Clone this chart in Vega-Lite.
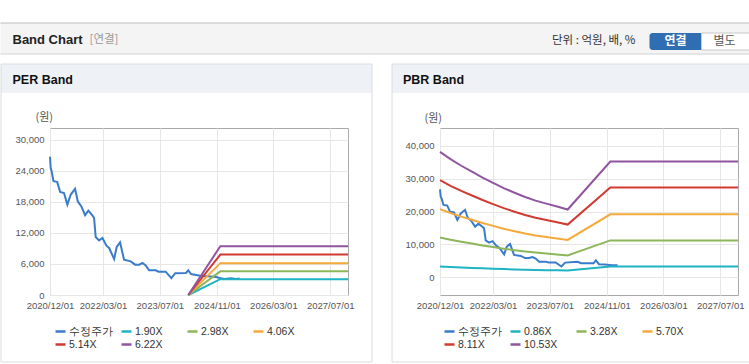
{
"$schema": "https://vega.github.io/schema/vega-lite/v6.json",
"background": "white",
"padding": {"top": 22, "left": 0, "right": 0, "bottom": 0},
"autosize": {"type": "pad"},
"config": {
  "view": {"stroke": null},
  "font": "Liberation Sans",
  "axis": {"labelFont": "Liberation Sans", "labelFontSize": 9.5, "labelColor": "#555555", "ticks": false, "tickSize": 0, "domain": false, "gridColor": "#e6e6e6", "gridWidth": 1, "labelPadding": 6, "labelOverlap": false},
  "legend": {"labelFont": "Liberation Sans", "labelFontSize": 10.5, "labelColor": "#333333"}
},
"spacing": 8,
"resolve": {"scale": {"color": "independent", "x": "independent", "y": "independent"}, "legend": {"color": "independent"}},
"datasets": {
  "per_price": [
    {"date":"2020-12-01","series":"수정주가","value":26700},
    {"date":"2020-12-07","series":"수정주가","value":24500},
    {"date":"2020-12-15","series":"수정주가","value":23900},
    {"date":"2020-12-31","series":"수정주가","value":22000},
    {"date":"2021-01-20","series":"수정주가","value":21900},
    {"date":"2021-02-01","series":"수정주가","value":21800},
    {"date":"2021-02-26","series":"수정주가","value":19900},
    {"date":"2021-03-31","series":"수정주가","value":19700},
    {"date":"2021-04-29","series":"수정주가","value":17450},
    {"date":"2021-05-28","series":"수정주가","value":19400},
    {"date":"2021-07-04","series":"수정주가","value":20500},
    {"date":"2021-07-27","series":"수정주가","value":18100},
    {"date":"2021-08-27","series":"수정주가","value":17100},
    {"date":"2021-09-28","series":"수정주가","value":15400},
    {"date":"2021-10-26","series":"수정주가","value":16300},
    {"date":"2021-11-24","series":"수정주가","value":15500},
    {"date":"2021-12-14","series":"수정주가","value":14900},
    {"date":"2021-12-28","series":"수정주가","value":11200},
    {"date":"2022-01-26","series":"수정주가","value":10550},
    {"date":"2022-02-24","series":"수정주가","value":11000},
    {"date":"2022-03-30","series":"수정주가","value":9530},
    {"date":"2022-04-22","series":"수정주가","value":9080},
    {"date":"2022-06-04","series":"수정주가","value":6950},
    {"date":"2022-06-26","series":"수정주가","value":9270},
    {"date":"2022-07-25","series":"수정주가","value":10170},
    {"date":"2022-08-28","series":"수정주가","value":6820},
    {"date":"2022-10-25","series":"수정주가","value":6500},
    {"date":"2022-12-01","series":"수정주가","value":5860},
    {"date":"2023-01-04","series":"수정주가","value":5860},
    {"date":"2023-02-02","series":"수정주가","value":6180},
    {"date":"2023-03-02","series":"수정주가","value":5720},
    {"date":"2023-03-31","series":"수정주가","value":4760},
    {"date":"2023-05-27","series":"수정주가","value":4760},
    {"date":"2023-06-20","series":"수정주가","value":4500},
    {"date":"2023-08-20","series":"수정주가","value":4500},
    {"date":"2023-10-08","series":"수정주가","value":3250},
    {"date":"2023-11-10","series":"수정주가","value":4200},
    {"date":"2024-02-10","series":"수정주가","value":4250},
    {"date":"2024-03-01","series":"수정주가","value":4760},
    {"date":"2024-03-25","series":"수정주가","value":4050},
    {"date":"2024-06-10","series":"수정주가","value":3730},
    {"date":"2024-08-15","series":"수정주가","value":3600},
    {"date":"2024-10-25","series":"수정주가","value":3470},
    {"date":"2024-11-25","series":"수정주가","value":3280},
    {"date":"2025-01-05","series":"수정주가","value":3100},
    {"date":"2025-03-01","series":"수정주가","value":3250},
    {"date":"2025-04-15","series":"수정주가","value":3100},
    {"date":"2025-05-15","series":"수정주가","value":3200}
  ],
  "pbr_price": [
    {"date":"2020-12-01","series":"수정주가","value":26700},
    {"date":"2020-12-07","series":"수정주가","value":24500},
    {"date":"2020-12-15","series":"수정주가","value":23900},
    {"date":"2020-12-31","series":"수정주가","value":22000},
    {"date":"2021-01-20","series":"수정주가","value":21900},
    {"date":"2021-02-01","series":"수정주가","value":21800},
    {"date":"2021-02-26","series":"수정주가","value":19900},
    {"date":"2021-03-31","series":"수정주가","value":19700},
    {"date":"2021-04-29","series":"수정주가","value":17450},
    {"date":"2021-05-28","series":"수정주가","value":19400},
    {"date":"2021-07-04","series":"수정주가","value":20500},
    {"date":"2021-07-27","series":"수정주가","value":18100},
    {"date":"2021-08-27","series":"수정주가","value":17100},
    {"date":"2021-09-28","series":"수정주가","value":15400},
    {"date":"2021-10-26","series":"수정주가","value":16300},
    {"date":"2021-11-24","series":"수정주가","value":15500},
    {"date":"2021-12-14","series":"수정주가","value":14900},
    {"date":"2021-12-28","series":"수정주가","value":11200},
    {"date":"2022-01-26","series":"수정주가","value":10550},
    {"date":"2022-02-24","series":"수정주가","value":11000},
    {"date":"2022-03-30","series":"수정주가","value":9530},
    {"date":"2022-04-22","series":"수정주가","value":9080},
    {"date":"2022-06-04","series":"수정주가","value":6950},
    {"date":"2022-06-26","series":"수정주가","value":9270},
    {"date":"2022-07-25","series":"수정주가","value":10170},
    {"date":"2022-08-28","series":"수정주가","value":6820},
    {"date":"2022-10-25","series":"수정주가","value":6500},
    {"date":"2022-12-01","series":"수정주가","value":5860},
    {"date":"2023-01-04","series":"수정주가","value":5860},
    {"date":"2023-02-02","series":"수정주가","value":6180},
    {"date":"2023-03-02","series":"수정주가","value":5720},
    {"date":"2023-03-31","series":"수정주가","value":4760},
    {"date":"2023-05-27","series":"수정주가","value":4760},
    {"date":"2023-06-20","series":"수정주가","value":4500},
    {"date":"2023-08-20","series":"수정주가","value":4500},
    {"date":"2023-10-08","series":"수정주가","value":3300},
    {"date":"2023-11-10","series":"수정주가","value":4470},
    {"date":"2024-02-24","series":"수정주가","value":4700},
    {"date":"2024-03-25","series":"수정주가","value":4300},
    {"date":"2024-07-10","series":"수정주가","value":4250},
    {"date":"2024-07-30","series":"수정주가","value":5170},
    {"date":"2024-08-25","series":"수정주가","value":4000},
    {"date":"2024-10-15","series":"수정주가","value":3900},
    {"date":"2024-12-15","series":"수정주가","value":3700},
    {"date":"2025-02-01","series":"수정주가","value":3650}
  ],
  "per_band": [
    {"date":"2024-03-01","series":"1.90X","value":0},{"date":"2024-12-01","series":"1.90X","value":3060},{"date":"2027-12-01","series":"1.90X","value":3060},
    {"date":"2024-03-01","series":"2.98X","value":0},{"date":"2024-12-01","series":"2.98X","value":4570},{"date":"2027-12-01","series":"2.98X","value":4570},
    {"date":"2024-03-01","series":"4.06X","value":0},{"date":"2024-12-01","series":"4.06X","value":6150},{"date":"2027-12-01","series":"4.06X","value":6150},
    {"date":"2024-03-01","series":"5.14X","value":0},{"date":"2024-12-01","series":"5.14X","value":7800},{"date":"2027-12-01","series":"5.14X","value":7800},
    {"date":"2024-03-01","series":"6.22X","value":0},{"date":"2024-12-01","series":"6.22X","value":9420},{"date":"2027-12-01","series":"6.22X","value":9420}
  ],
  "pbr_band": [
    {"date":"2020-12-01","series":"0.86X","value":3300},{"date":"2021-03-01","series":"0.86X","value":3150},{"date":"2021-06-01","series":"0.86X","value":3000},{"date":"2021-09-01","series":"0.86X","value":2870},{"date":"2021-12-01","series":"0.86X","value":2740},{"date":"2022-03-01","series":"0.86X","value":2620},{"date":"2022-06-01","series":"0.86X","value":2500},{"date":"2022-09-01","series":"0.86X","value":2400},{"date":"2022-12-01","series":"0.86X","value":2310},{"date":"2023-03-01","series":"0.86X","value":2240},{"date":"2023-06-01","series":"0.86X","value":2180},{"date":"2023-09-01","series":"0.86X","value":2120},{"date":"2023-12-01","series":"0.86X","value":2060},{"date":"2024-12-01","series":"0.86X","value":3300},{"date":"2027-12-01","series":"0.86X","value":3300},
    {"date":"2020-12-01","series":"3.28X","value":12120},{"date":"2021-03-01","series":"3.28X","value":11430},{"date":"2021-06-01","series":"3.28X","value":10810},{"date":"2021-09-01","series":"3.28X","value":10250},{"date":"2021-12-01","series":"3.28X","value":9690},{"date":"2022-03-01","series":"3.28X","value":9190},{"date":"2022-06-01","series":"3.28X","value":8690},{"date":"2022-09-01","series":"3.28X","value":8260},{"date":"2022-12-01","series":"3.28X","value":7850},{"date":"2023-03-01","series":"3.28X","value":7510},{"date":"2023-06-01","series":"3.28X","value":7230},{"date":"2023-09-01","series":"3.28X","value":6950},{"date":"2023-12-01","series":"3.28X","value":6670},{"date":"2024-12-01","series":"3.28X","value":11220},{"date":"2027-12-01","series":"3.28X","value":11220},
    {"date":"2020-12-01","series":"5.70X","value":20720},{"date":"2021-03-01","series":"5.70X","value":19530},{"date":"2021-06-01","series":"5.70X","value":18450},{"date":"2021-09-01","series":"5.70X","value":17480},{"date":"2021-12-01","series":"5.70X","value":16500},{"date":"2022-03-01","series":"5.70X","value":15640},{"date":"2022-06-01","series":"5.70X","value":14770},{"date":"2022-09-01","series":"5.70X","value":14010},{"date":"2022-12-01","series":"5.70X","value":13310},{"date":"2023-03-01","series":"5.70X","value":12710},{"date":"2023-06-01","series":"5.70X","value":12230},{"date":"2023-09-01","series":"5.70X","value":11800},{"date":"2023-12-01","series":"5.70X","value":11350},{"date":"2024-12-01","series":"5.70X","value":19150},{"date":"2027-12-01","series":"5.70X","value":19150},
    {"date":"2020-12-01","series":"8.11X","value":29500},{"date":"2021-03-01","series":"8.11X","value":27800},{"date":"2021-06-01","series":"8.11X","value":26260},{"date":"2021-09-01","series":"8.11X","value":24870},{"date":"2021-12-01","series":"8.11X","value":23490},{"date":"2022-03-01","series":"8.11X","value":22260},{"date":"2022-06-01","series":"8.11X","value":21020},{"date":"2022-09-01","series":"8.11X","value":19940},{"date":"2022-12-01","series":"8.11X","value":18940},{"date":"2023-03-01","series":"8.11X","value":18100},{"date":"2023-06-01","series":"8.11X","value":17400},{"date":"2023-09-01","series":"8.11X","value":16710},{"date":"2023-12-01","series":"8.11X","value":16020},{"date":"2024-12-01","series":"8.11X","value":27260},{"date":"2027-12-01","series":"8.11X","value":27260},
    {"date":"2020-12-01","series":"10.53X","value":38100},{"date":"2021-03-01","series":"10.53X","value":35900},{"date":"2021-06-01","series":"10.53X","value":33900},{"date":"2021-09-01","series":"10.53X","value":32100},{"date":"2021-12-01","series":"10.53X","value":30300},{"date":"2022-03-01","series":"10.53X","value":28700},{"date":"2022-06-01","series":"10.53X","value":27100},{"date":"2022-09-01","series":"10.53X","value":25700},{"date":"2022-12-01","series":"10.53X","value":24400},{"date":"2023-03-01","series":"10.53X","value":23300},{"date":"2023-06-01","series":"10.53X","value":22400},{"date":"2023-09-01","series":"10.53X","value":21500},{"date":"2023-12-01","series":"10.53X","value":20600},{"date":"2024-12-01","series":"10.53X","value":35200},{"date":"2027-12-01","series":"10.53X","value":35200}
  ]
},
"vconcat": [
  {
    "width": 600, "height": 31,
    "data": {"values": [{}]},
    "layer": [
      {"mark": {"type": "rect", "fill": "#f4f4f4"}, "encoding": {"x": {"value": -49.5}, "x2": {"value": 699}, "y": {"value": 0}, "y2": {"value": 31}}},
      {"mark": {"type": "rule", "stroke": "#bdbdbd", "strokeWidth": 1}, "encoding": {"x": {"value": -49.5}, "x2": {"value": 699}, "y": {"value": 0}}},
      {"mark": {"type": "rule", "stroke": "#d2d2d2", "strokeWidth": 1}, "encoding": {"x": {"value": -49.5}, "x2": {"value": 699}, "y": {"value": 31}}},
      {"mark": {"type": "text", "text": "Band Chart", "font": "Liberation Sans", "fontSize": 13, "fontWeight": "bold", "color": "#222222", "align": "left", "baseline": "middle"}, "encoding": {"x": {"value": -37.5}, "y": {"value": 16.5}}},
      {"mark": {"type": "text", "text": "[연결]", "font": "Noto Sans CJK KR", "fontSize": 11.5, "color": "#9a9a9a", "align": "left", "baseline": "middle"}, "encoding": {"x": {"value": 39.5}, "y": {"value": 16.5}}},
      {"mark": {"type": "text", "text": "단위 : 억원, 배, %", "font": "Noto Sans CJK KR", "fontSize": 11.5, "color": "#333333", "align": "left", "baseline": "middle"}, "encoding": {"x": {"value": 502}, "y": {"value": 18}}},
      {"mark": {"type": "rect", "fill": "#2f6eb3", "cornerRadiusTopLeft": 3, "cornerRadiusBottomLeft": 3}, "encoding": {"x": {"value": 599.5}, "x2": {"value": 651.5}, "y": {"value": 10}, "y2": {"value": 27}}},
      {"mark": {"type": "rect", "fill": "white", "stroke": "#c8c8c8", "strokeWidth": 1}, "encoding": {"x": {"value": 651.5}, "x2": {"value": 699.5}, "y": {"value": 10}, "y2": {"value": 27}}},
      {"mark": {"type": "text", "text": "연결", "font": "Noto Sans CJK KR", "fontSize": 12, "fontWeight": "bold", "color": "white", "align": "center", "baseline": "middle"}, "encoding": {"x": {"value": 625.5}, "y": {"value": 18}}},
      {"mark": {"type": "text", "text": "별도", "font": "Noto Sans CJK KR", "fontSize": 12, "color": "#555555", "align": "center", "baseline": "middle"}, "encoding": {"x": {"value": 674.5}, "y": {"value": 18}}}
    ]
  },
  {
    "spacing": 18,
    "resolve": {"scale": {"color": "independent", "x": "independent", "y": "independent"}, "legend": {"color": "independent"}},
    "hconcat": [
      {
        "width": 298, "height": 167,
        "view": {"stroke": "#aaaaaa"},
        "layer": [
          {"data": {"values": [{}]}, "mark": {"type": "rect", "fill": "#eef1f6"}, "encoding": {"x": {"value": -49}, "x2": {"value": 322}, "y": {"value": -64}, "y2": {"value": -35}}},
          {"data": {"values": [{}]}, "mark": {"type": "rect", "fillOpacity": 0, "stroke": "#dcdcdc", "strokeWidth": 1}, "encoding": {"x": {"value": -49}, "x2": {"value": 322}, "y": {"value": -64}, "y2": {"value": 234}}},
          {"data": {"values": [{}]}, "mark": {"type": "text", "text": "PER Band", "font": "Liberation Sans", "fontSize": 12.5, "fontWeight": "bold", "color": "#111111", "align": "left", "baseline": "middle"}, "encoding": {"x": {"value": -37.5}, "y": {"value": -48}}},
          {"data": {"name": "per_price"}, "mark": {"type": "line", "strokeWidth": 2},
           "encoding": {
             "x": {"field": "date", "type": "temporal", "scale": {"type": "utc", "domain": [{"year": 2020, "month": 12, "date": 1, "utc": true}, {"year": 2027, "month": 12, "date": 1, "utc": true}]},
                   "axis": {"values": [{"year": 2020, "month": 12, "date": 1, "utc": true}, {"year": 2022, "month": 3, "date": 1, "utc": true}, {"year": 2023, "month": 7, "date": 1, "utc": true}, {"year": 2024, "month": 11, "date": 1, "utc": true}, {"year": 2026, "month": 3, "date": 1, "utc": true}, {"year": 2027, "month": 7, "date": 1, "utc": true}], "labelExpr": "utcFormat(datum.value, '%Y/%m/%d')", "title": null, "labelFlush": false, "labelOverlap": false, "grid": true, "labelPadding": 5}},
             "y": {"field": "value", "type": "quantitative", "scale": {"domain": [0, 32250], "nice": false, "zero": false},
                   "axis": {"values": [0, 6000, 12000, 18000, 24000, 30000], "format": ",d", "labelOverlap": false, "title": "(원)", "titleAngle": 0, "titleX": -15, "titleY": -11, "titleAlign": "left", "titleBaseline": "middle", "titleFont": "Noto Sans CJK KR", "titleFontSize": 11, "titleFontWeight": "normal", "titleColor": "#555555", "grid": true}},
             "color": {"field": "series", "type": "nominal", "scale": {"domain": ["수정주가", "1.90X", "2.98X", "4.06X", "5.14X", "6.22X"], "range": ["#3a7cc9", "#1fb3c3", "#8db65a", "#f5a93a", "#d03a33", "#90559f"]},
                       "legend": {"title": null, "orient": "none", "legendX": 4, "legendY": 197, "direction": "horizontal", "columns": 4, "gridAlign": "all", "symbolType": "stroke", "symbolSize": 100, "symbolStrokeWidth": 2.5, "columnPadding": 3, "rowPadding": 1, "labelOffset": 2, "padding": 0}}
           }},
          {"data": {"name": "per_band"}, "mark": {"type": "line", "strokeWidth": 2},
           "encoding": {
             "x": {"field": "date", "type": "temporal", "scale": {"type": "utc", "domain": [{"year": 2020, "month": 12, "date": 1, "utc": true}, {"year": 2027, "month": 12, "date": 1, "utc": true}]},
                   "axis": {"values": [{"year": 2020, "month": 12, "date": 1, "utc": true}, {"year": 2022, "month": 3, "date": 1, "utc": true}, {"year": 2023, "month": 7, "date": 1, "utc": true}, {"year": 2024, "month": 11, "date": 1, "utc": true}, {"year": 2026, "month": 3, "date": 1, "utc": true}, {"year": 2027, "month": 7, "date": 1, "utc": true}], "labelExpr": "utcFormat(datum.value, '%Y/%m/%d')", "title": null, "labelFlush": false, "labelOverlap": false, "grid": true, "labelPadding": 5}},
             "y": {"field": "value", "type": "quantitative", "scale": {"domain": [0, 32250], "nice": false, "zero": false},
                   "axis": {"values": [0, 6000, 12000, 18000, 24000, 30000], "format": ",d", "labelOverlap": false, "title": "(원)", "titleAngle": 0, "titleX": -15, "titleY": -11, "titleAlign": "left", "titleBaseline": "middle", "titleFont": "Noto Sans CJK KR", "titleFontSize": 11, "titleFontWeight": "normal", "titleColor": "#555555", "grid": true}},
             "color": {"field": "series", "type": "nominal", "scale": {"domain": ["수정주가", "1.90X", "2.98X", "4.06X", "5.14X", "6.22X"], "range": ["#3a7cc9", "#1fb3c3", "#8db65a", "#f5a93a", "#d03a33", "#90559f"]}}
           }}
        ]
      },
      {
        "width": 298, "height": 167,
        "view": {"stroke": "#aaaaaa"},
        "layer": [
          {"data": {"values": [{}]}, "mark": {"type": "rect", "fill": "#eef1f6"}, "encoding": {"x": {"value": -48}, "x2": {"value": 310}, "y": {"value": -64}, "y2": {"value": -35}}},
          {"data": {"values": [{}]}, "mark": {"type": "rule", "stroke": "#dcdcdc", "strokeWidth": 1}, "encoding": {"x": {"value": -48}, "x2": {"value": 310}, "y": {"value": -64}}},
          {"data": {"values": [{}]}, "mark": {"type": "rule", "stroke": "#dcdcdc", "strokeWidth": 1}, "encoding": {"x": {"value": -48}, "x2": {"value": 310}, "y": {"value": 234}}},
          {"data": {"values": [{}]}, "mark": {"type": "rule", "stroke": "#dcdcdc", "strokeWidth": 1}, "encoding": {"x": {"value": -48}, "y": {"value": -64}, "y2": {"value": 234}}},
          {"data": {"values": [{}]}, "mark": {"type": "text", "text": "PBR Band", "font": "Liberation Sans", "fontSize": 12.5, "fontWeight": "bold", "color": "#111111", "align": "left", "baseline": "middle"}, "encoding": {"x": {"value": -37}, "y": {"value": -48}}},
          {"data": {"name": "pbr_price"}, "mark": {"type": "line", "strokeWidth": 2},
           "encoding": {
             "x": {"field": "date", "type": "temporal", "scale": {"type": "utc", "domain": [{"year": 2020, "month": 12, "date": 1, "utc": true}, {"year": 2027, "month": 12, "date": 1, "utc": true}]},
                   "axis": {"values": [{"year": 2020, "month": 12, "date": 1, "utc": true}, {"year": 2022, "month": 3, "date": 1, "utc": true}, {"year": 2023, "month": 7, "date": 1, "utc": true}, {"year": 2024, "month": 11, "date": 1, "utc": true}, {"year": 2026, "month": 3, "date": 1, "utc": true}, {"year": 2027, "month": 7, "date": 1, "utc": true}], "labelExpr": "utcFormat(datum.value, '%Y/%m/%d')", "title": null, "labelFlush": false, "labelOverlap": false, "grid": true, "labelPadding": 5}},
             "y": {"field": "value", "type": "quantitative", "scale": {"domain": [-5370, 45370], "nice": false, "zero": false},
                   "axis": {"values": [0, 10000, 20000, 30000, 40000], "format": ",d", "labelOverlap": false, "title": "(원)", "titleAngle": 0, "titleX": -16, "titleY": -10, "titleAlign": "left", "titleBaseline": "middle", "titleFont": "Noto Sans CJK KR", "titleFontSize": 11, "titleFontWeight": "normal", "titleColor": "#555555", "grid": true}},
             "color": {"field": "series", "type": "nominal", "scale": {"domain": ["수정주가", "0.86X", "3.28X", "5.70X", "8.11X", "10.53X"], "range": ["#3a7cc9", "#1fb3c3", "#8db65a", "#f5a93a", "#d03a33", "#90559f"]},
                       "legend": {"title": null, "orient": "none", "legendX": 3, "legendY": 197, "direction": "horizontal", "columns": 4, "gridAlign": "all", "symbolType": "stroke", "symbolSize": 100, "symbolStrokeWidth": 2.5, "columnPadding": 3, "rowPadding": 1, "labelOffset": 2, "padding": 0}}
           }},
          {"data": {"name": "pbr_band"}, "mark": {"type": "line", "strokeWidth": 2},
           "encoding": {
             "x": {"field": "date", "type": "temporal", "scale": {"type": "utc", "domain": [{"year": 2020, "month": 12, "date": 1, "utc": true}, {"year": 2027, "month": 12, "date": 1, "utc": true}]},
                   "axis": {"values": [{"year": 2020, "month": 12, "date": 1, "utc": true}, {"year": 2022, "month": 3, "date": 1, "utc": true}, {"year": 2023, "month": 7, "date": 1, "utc": true}, {"year": 2024, "month": 11, "date": 1, "utc": true}, {"year": 2026, "month": 3, "date": 1, "utc": true}, {"year": 2027, "month": 7, "date": 1, "utc": true}], "labelExpr": "utcFormat(datum.value, '%Y/%m/%d')", "title": null, "labelFlush": false, "labelOverlap": false, "grid": true, "labelPadding": 5}},
             "y": {"field": "value", "type": "quantitative", "scale": {"domain": [-5370, 45370], "nice": false, "zero": false},
                   "axis": {"values": [0, 10000, 20000, 30000, 40000], "format": ",d", "labelOverlap": false, "title": "(원)", "titleAngle": 0, "titleX": -16, "titleY": -10, "titleAlign": "left", "titleBaseline": "middle", "titleFont": "Noto Sans CJK KR", "titleFontSize": 11, "titleFontWeight": "normal", "titleColor": "#555555", "grid": true}},
             "color": {"field": "series", "type": "nominal", "scale": {"domain": ["수정주가", "0.86X", "3.28X", "5.70X", "8.11X", "10.53X"], "range": ["#3a7cc9", "#1fb3c3", "#8db65a", "#f5a93a", "#d03a33", "#90559f"]}}
           }}
        ]
      }
    ]
  }
]
}
